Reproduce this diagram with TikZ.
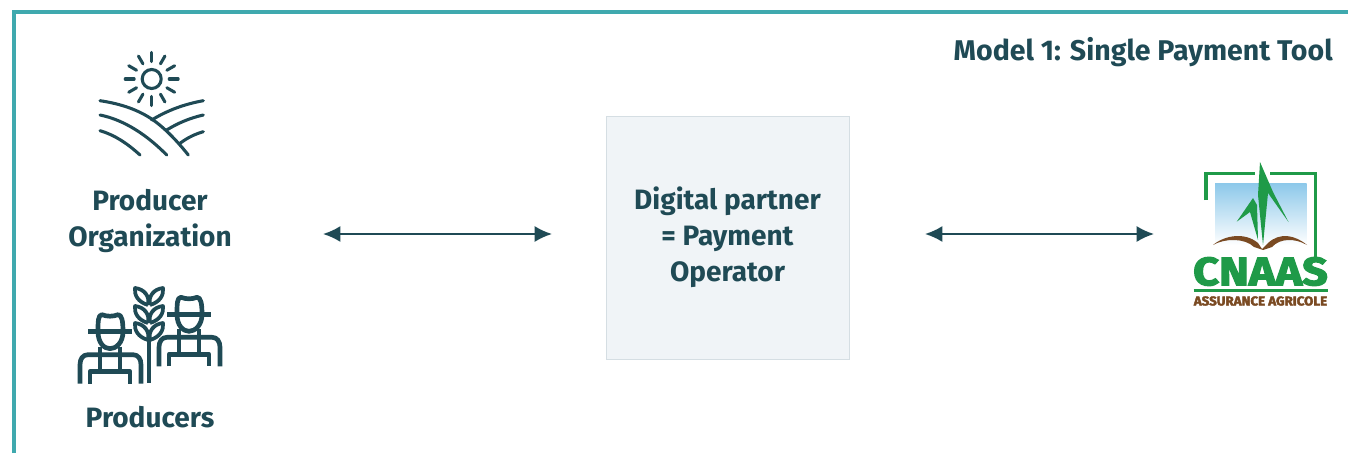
\documentclass[tikz,border=0pt]{standalone}
\usepackage{fontspec}
\setmainfont{Fira Sans}
\newfontfamily\logofont{Fira Sans}[BoldFeatures={FakeBold=3}]
\usetikzlibrary{arrows.meta}
\definecolor{inkteal}{HTML}{1F4A55}
\definecolor{frameteal}{HTML}{3FA9AE}
\definecolor{boxfill}{HTML}{F0F4F7}
\definecolor{boxline}{HTML}{D5DEE3}
\definecolor{logogreen}{HTML}{1F9A48}
\definecolor{logobrown}{HTML}{7A4A22}
\definecolor{logosky}{HTML}{8CC8EA}
\tikzset{
    caption/.style={font=\fontsize{21}{27}\selectfont\bfseries, text=inkteal, align=center, inner sep=0pt},
    partner/.style={caption, fill=boxfill, draw=boxline, line width=0.5pt, minimum width=182pt, minimum height=182pt},
    link/.style={{Latex[length=13pt,width=12pt]}-{Latex[length=13pt,width=12pt]}, draw=inkteal, line width=1.4pt},
    thin icon/.style={draw=inkteal, line width=2.3pt, line cap=round, line join=round},
    thick icon/.style={draw=inkteal, line width=3.5pt, line join=round},
    pics/farmer/.style={code={
        \draw[thick icon] (-22,0) -- (22,0);
        \draw[thick icon] (-12,0) .. controls (-12,-10) and (-12,-17) .. (-8,-17) .. controls (-3,-15) and (3,-15) .. (8,-17) .. controls (12,-17) and (13,-10) .. (13,0);
        \draw[thick icon] (-12,0) .. controls (-12,11) and (-6,17) .. (0,17) .. controls (6,17) and (13,11) .. (13,0);
        \draw[thick icon] (-30,52) -- (-30,33) .. controls (-30,27) and (-27,23) .. (-22,23) -- (23,23) .. controls (28,23) and (31,27) .. (31,33) -- (31,52);
        \draw[thick icon] (-10,15) -- (-10,40) (10,15) -- (10,40);
        \draw[thick icon] (-20,52) -- (-20,40) -- (20,40) -- (20,52);
    }},
}
\begin{document}
\begin{tikzpicture}[x=0.75pt, y=-0.75pt]
    \useasboundingbox (0,0) rectangle (1348,453);

    % cadre
    \draw[frameteal, line width=2.3pt] (14,453) -- (14,12) -- (1348,12);

    \node[caption, anchor=east, font=\fontsize{21.4}{27}\selectfont\bfseries] (title) at (1333,52) {Model 1: Single Payment Tool};
    \node[caption] (organization) at (150,220.5) {Producer\\Organization};
    \node[caption] (producers) at (150,417) {Producers};
    \node[partner] (digital) at (727.5,237.5) {Digital partner\\= Payment\\Operator};

    \coordinate (linkA) at (323,234);
    \coordinate (linkB) at (552,234);
    \coordinate (linkC) at (925,234);
    \coordinate (linkD) at (1154,234);
    \draw[link] (linkA) -- (linkB);
    \draw[link] (linkC) -- (linkD);

    % soleil et champs
    \coordinate (sun) at (151.7,79);
    \draw[thin icon] (sun) circle (9.5);
    \foreach \a in {0,30,...,330}
        \draw[thin icon] (sun) ++(\a:17.5) -- ++(\a:9);
    \draw[thin icon] (100,100.7) .. controls (122,104) and (138,110) .. (151.7,119) .. controls (165,128) and (178,142) .. (188.3,155);
    \draw[thin icon] (100,115) .. controls (125,120) and (148,136) .. (166.7,155);
    \draw[thin icon] (100,130.7) .. controls (115,135) and (128,144) .. (140,155);
    \draw[thin icon] (151.7,120) .. controls (168,110) and (185,104) .. (203.3,100.7);
    \draw[thin icon] (166.7,130) .. controls (178,123) and (190,118) .. (203.3,115);
    \draw[thin icon] (180,143.3) .. controls (187,138) and (195,134) .. (203.3,131.7);

    % producteurs et epi
    \pic at (110,331.7) {farmer};
    \pic at (189,314.3) {farmer};
    \draw[thick icon] (149,340) -- (149,383);
    \foreach \ytop in {288,306,323}{
        \draw[thick icon, line width=2.8pt] (148,\ytop+17) .. controls (138,\ytop+14) and (134,\ytop+7) .. (135,\ytop) .. controls (144,\ytop+1) and (150,\ytop+8) .. (148,\ytop+17);
        \draw[thick icon, line width=2.8pt] (150,\ytop+17) .. controls (160,\ytop+14) and (164,\ytop+7) .. (163,\ytop) .. controls (154,\ytop+1) and (148,\ytop+8) .. (150,\ytop+17);
    }

    % logo
    \shade[top color=logosky, bottom color=white] (1215,183) rectangle (1306.7,245);
    \draw[logogreen, line width=2.4pt] (1206,200) -- (1206,173.5) -- (1255,173.5);
    \draw[logogreen, line width=2.4pt] (1270,173.5) -- (1315.5,173.5) -- (1315.5,257);
    \fill[logogreen] (1260,162) -- (1273,192) -- (1288.5,222) -- (1268,193) -- (1263,245) -- (1258,195) -- cycle;
    \fill[logogreen] (1253,198) -- (1236.7,221.7) -- (1250,212) -- (1258,240) -- (1257,205) -- cycle;
    \fill[logobrown] (1213,245) .. controls (1225,235) and (1245,232) .. (1258,243) -- (1262,249) -- (1268,243) .. controls (1280,232) and (1295,235) .. (1307,245) .. controls (1295,238) and (1280,238) .. (1272,247) -- (1263,250) -- (1254,247) .. controls (1245,238) and (1225,238) .. (1213,245) -- cycle;
    \node[inner sep=0pt, text=logogreen, font=\logofont\bfseries] (cnaas) at (1260.5,271.5) {\resizebox{101pt}{21pt}{CNAAS}};
    \draw[logogreen, line width=1.6pt] (1193.5,290.5) -- (1327.5,290.5);
    \node[inner sep=0pt, text=logobrown, font=\logofont\bfseries] (assurance) at (1260.5,301) {\resizebox{100pt}{6.8pt}{ASSURANCE AGRICOLE}};
\end{tikzpicture}
\end{document}
